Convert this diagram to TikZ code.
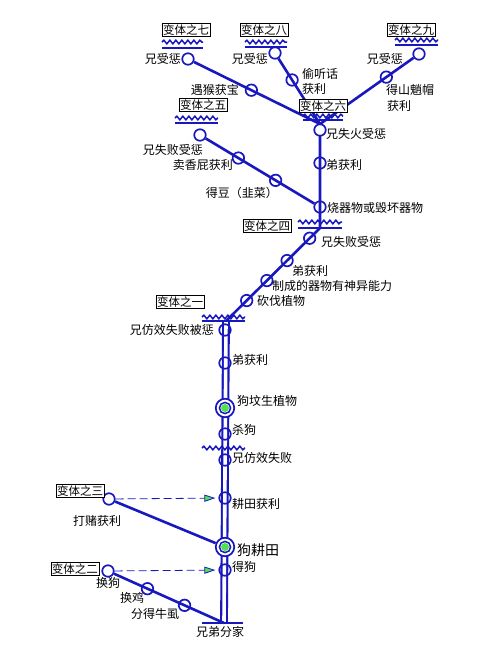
\documentclass[tikz,border=0pt]{standalone}
\usepackage{fontspec}
\setmainfont{Noto Sans CJK SC}
\usetikzlibrary{calc,arrows.meta,decorations.pathmorphing}
\definecolor{lineblue}{RGB}{24,24,190}
\definecolor{dotgreen}{RGB}{80,224,80}
\pgfdeclarelayer{bg}
\pgfsetlayers{bg,main}

\begin{document}
\begin{tikzpicture}[x=1pt,y=-1pt,
  stop/.style={circle,draw=lineblue,line width=1.7pt,minimum size=11.5pt,inner sep=0pt},
  endstop/.style={stop,fill=white},
  bigstop/.style={circle,draw=lineblue,line width=1.7pt,fill=white,minimum size=18.5pt,inner sep=0pt,
    path picture={\draw[lineblue,line width=1.5pt] (path picture bounding box.center) circle (5.6pt);
      \fill[dotgreen] (path picture bounding box.center) circle (4pt);}},
  branch/.style={lineblue,line width=2.6pt},
  trunk/.style={draw=lineblue,double=white,double distance=3.6pt,line width=2.1pt},
  wavy/.style={lineblue,line width=1.5pt,decorate,decoration={snake,segment length=6pt,amplitude=1.8pt}},
  bar/.style={lineblue,line width=2.4pt},
  dasharrow/.style={lineblue,line width=0.8pt,dash pattern=on 8pt off 4pt,shorten >=3pt,
    -{Triangle[length=11pt,width=7pt,fill=dotgreen]}},
  vbox/.style={draw=black,line width=0.6pt,fill=white,inner sep=1pt,font=\fontsize{11.5}{12}\selectfont},
  lbl/.style={inner sep=0pt,font=\fontsize{12}{14}\selectfont}]
\useasboundingbox (0,0) rectangle (495,657);
\coordinate (j6) at (320,124); \coordinate (j4) at (320,228); \coordinate (j1) at (226,321); \coordinate (jb) at (224,623);

% top three variants
\node[endstop] (c7a) at (188,59) {}; \node[stop] (c7b) at ($(c7a)!.48!(j6)$) {};
\node[endstop] (c8a) at (275,53) {}; \node[stop] (c8b) at ($(c8a)!.38!(j6)$) {};
\node[endstop] (c9a) at (419,54) {}; \node[stop] (c9b) at ($(c9a)!.33!(j6)$) {};
% upper trunk
\node[endstop] (c6a) at (320,130) {}; \node[stop] (c6b) at (320,163) {}; \node[stop] (c6c) at (320,207) {};
\node[endstop] (c5a) at (200,135) {}; \node[stop] (c5b) at ($(c5a)!.32!(c6c)$) {}; \node[stop] (c5c) at ($(c5a)!.63!(c6c)$) {};
% diagonal
\node[stop] (c4a) at ($(j4)!.11!(j1)$) {}; \node[stop] (c4b) at ($(j4)!.35!(j1)$) {};
\node[stop] (c4c) at ($(j4)!.565!(j1)$) {}; \node[stop] (c4d) at ($(j4)!.78!(j1)$) {};
% main trunk
\node[stop] (d1) at (225,330) {}; \node[stop] (d2) at (225,363) {}; \node[bigstop] (dog1) at (225,408) {};
\node[stop] (d3) at (225,434) {}; \node[stop] (d4) at (225,460) {}; \node[stop] (d5) at (225,498) {};
\node[bigstop] (dog2) at (225,547) {}; \node[stop] (d6) at (225,570) {};
\node[endstop] (c3) at (109,499) {};
\node[endstop] (c2a) at (108,571) {}; \node[stop] (c2b) at ($(c2a)!.34!(jb)$) {}; \node[stop] (c2c) at ($(c2a)!.66!(jb)$) {};

\begin{pgfonlayer}{bg}
\draw[branch] (c7a)--(j6); \draw[branch] (c8a)--(j6); \draw[branch] (c9a)--(j6);
\draw[branch] (j6)--(j4)--(j1);
\draw[branch] (c5a)--(c6c);
\draw[trunk] (j1)--(jb);
\draw[branch] (c3)--(dog2);
\draw[branch] (c2a)--(jb);
\draw[dasharrow] (c3)--(d5);
\draw[dasharrow] (c2a)--(d6);
\end{pgfonlayer}

% waves and bars under the variants
\foreach \xa/\xb/\yw/\yb in {162/203/42/48, 245/287/42/47, 395/438/40/45, 303/343/116/120, 175/218/118/123, 298/342/222/228, 202/245/317/321}{
  \draw[wavy] (\xa,\yw)--(\xb,\yw);
  \draw[bar] (\xa,\yb)--(\xb,\yb);
}
\draw[wavy] (202,448)--(245,448);
\draw[bar] (202,623)--(243,623);

\node[vbox] (v7) at (186,30) {变体之七};
\node[vbox] (v8) at (264,30) {变体之八};
\node[vbox] (v9) at (411,30) {变体之九};
\node[vbox] (v6) at (323,106) {变体之六};
\node[vbox] (v5) at (203,105) {变体之五};
\node[vbox] (v4) at (267,226) {变体之四};
\node[vbox] (v1) at (180,302) {变体之一};
\node[vbox] (v3) at (80,491) {变体之三};
\node[vbox] (v2) at (75,569) {变体之二};

\node[lbl,anchor=east] at (181,59) {兄受惩};
\node[lbl,anchor=east] at (239,90) {遇猴获宝};
\node[lbl,anchor=east] at (268,59) {兄受惩};
\node[lbl,anchor=west] at (302,74) {偷听话};
\node[lbl,anchor=west] at (302,89) {获利};
\node[lbl,anchor=east] at (403,59) {兄受惩};
\node[lbl,anchor=west] at (386,90) {得山魈帽};
\node[lbl,anchor=west] at (387,106) {获利};
\node[lbl,anchor=west] at (326,134) {兄失火受惩};
\node[lbl,anchor=west] at (326,165) {弟获利};
\node[lbl,anchor=west] at (327,208) {烧器物或毁坏器物};
\node[lbl,anchor=east] at (203,150) {兄失败受惩};
\node[lbl,anchor=east] at (233,165) {卖香屁获利};
\node[lbl,anchor=east] at (278,193) {得豆（韭菜）};
\node[lbl,anchor=west] at (321,242) {兄失败受惩};
\node[lbl,anchor=west] at (292,271) {弟获利};
\node[lbl,anchor=west] at (272,286) {制成的器物有神异能力};
\node[lbl,anchor=west] at (257,301) {砍伐植物};
\node[lbl,anchor=east] at (214,330) {兄仿效失败被惩};
\node[lbl,anchor=west] at (232,360) {弟获利};
\node[lbl,anchor=west] at (237,401) {狗坟生植物};
\node[lbl,anchor=west] at (232,430) {杀狗};
\node[lbl,anchor=west] at (232,458) {兄仿效失败};
\node[lbl,anchor=west] at (232,504) {耕田获利};
\node[lbl,anchor=west,font=\fontsize{14}{16}\selectfont] at (237,550) {狗耕田};
\node[lbl,anchor=west] at (232,567) {得狗};
\node[lbl] at (97,521) {打赌获利};
\node[lbl] at (108,583) {换狗};
\node[lbl] at (132,598) {换鸡};
\node[lbl] at (155,614) {分得牛虱};
\node[lbl] at (220,632) {兄弟分家};
\end{tikzpicture}
\end{document}
